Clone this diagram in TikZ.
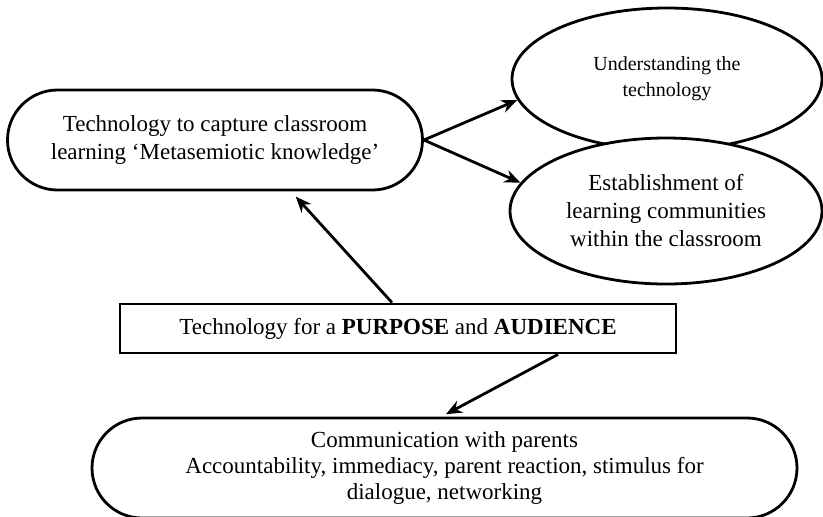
\documentclass[tikz,border=0pt]{standalone}
\usepackage{fontspec}
\setmainfont{Liberation Serif}
\usetikzlibrary{arrows.meta, shapes.geometric}

\begin{document}
\begin{tikzpicture}[x=0.5pt, y=-0.5pt, line width=1.4pt,
  every node/.style = {draw, align=center, font=\fontsize{11.5}{14}\selectfont},
  pill/.style = {rectangle, rounded corners=25pt, minimum height=50pt},
  oval/.style = {ellipse, fill=white, inner sep=0pt},
  box/.style = {rectangle, minimum height=24.5pt},
  link/.style = {-{Stealth[length=8pt, width=6.5pt]}}]

  \useasboundingbox[fill=white] (0,0) rectangle (823,516);

  % top level
  \node[pill, minimum width=207.5pt] (cap) at (215,140)
    {Technology to capture classroom\\ learning `Metasemiotic knowledge'};
  \node[oval, minimum width=155pt, minimum height=71pt,
    font=\fontsize{10}{13}\selectfont] (under) at (667,79)
    {Understanding the\\ technology};
  \node[oval, minimum width=156pt, minimum height=73pt] (estab) at (666,211)
    {Establishment of\\ learning communities\\ within the classroom};

  \draw[link] (cap.east) -- (under.188);
  \draw[link] (cap.east) -- (estab.169);

  % purpose
  \node[box, minimum width=278pt] (purpose) at (398,328.5)
    {Technology for a \textbf{PURPOSE} and \textbf{AUDIENCE}};

  \draw[link, shorten >=3.5pt] ([xshift=-3pt]purpose.north) -- ([xshift=38pt]cap.south);

  % parents
  \node[pill, minimum width=352.5pt, font=\fontsize{11.5}{13}\selectfont] (comm) at (444.5,468)
    {Communication with parents\\ Accountability, immediacy, parent reaction, stimulus for\\ dialogue, networking};

  \draw[link, shorten >=2.5pt] ([xshift=80pt]purpose.south) -- ([xshift=-1.5pt]comm.north);
\end{tikzpicture}
\end{document}
